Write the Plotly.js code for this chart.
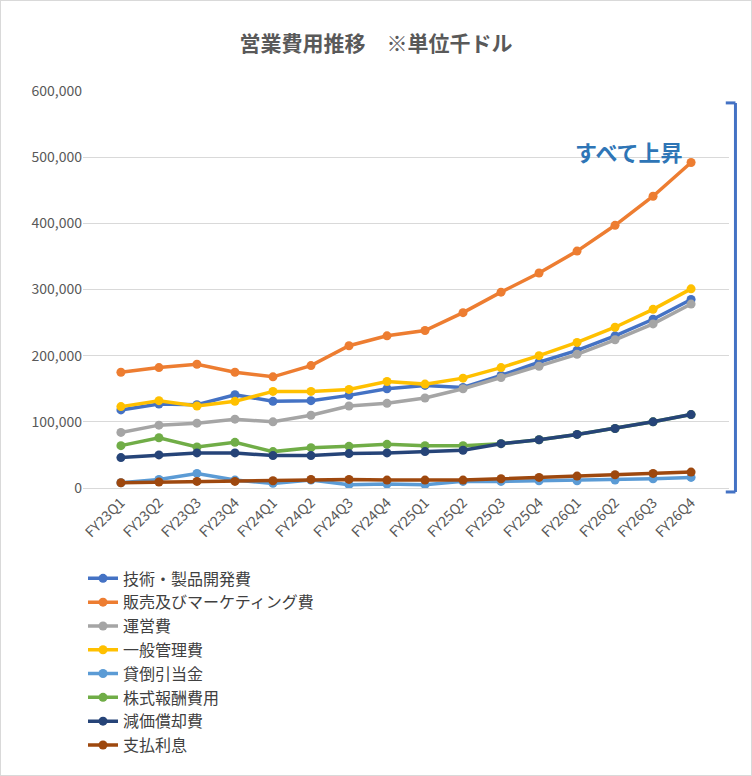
<!DOCTYPE html>
<html>
<head>
<meta charset="utf-8">
<script src="https://cdn.plot.ly/plotly-3.0.1.min.js"></script>
<style>
  body { margin: 0; }
  #chart { width: 752px; height: 776px; box-sizing: border-box; border: 1px solid #d9d9d9; }
</style>
</head>
<body>
<div id="chart"></div>
<script>
const quarters = ["FY23Q1","FY23Q2","FY23Q3","FY23Q4","FY24Q1","FY24Q2","FY24Q3","FY24Q4",
                  "FY25Q1","FY25Q2","FY25Q3","FY25Q4","FY26Q1","FY26Q2","FY26Q3","FY26Q4"];

const rnd      = [118000,127000,126000,141000,131000,132000,140000,150000,155000,152000,170000,190000,208000,230000,255000,285000];
const sales    = [175000,182000,187000,175000,168000,185000,215000,230000,238000,265000,296000,325000,358000,397000,441000,492000];
const ops      = [84000,95000,98000,104000,100000,110000,124000,128000,136000,150000,167000,184000,202000,224000,248000,278000];
const admin    = [123000,132000,124000,131000,146000,146000,149000,161000,157000,166000,182000,200000,220000,243000,270000,301000];
const baddebt  = [8000,13000,22000,12000,7000,12000,5000,6000,5000,10000,10000,11000,11000,12000,14000,16000];
const stock    = [64000,76000,62000,69000,55000,61000,63000,66000,64000,64000,67000,73000,81000,90000,100000,111000];
const deprec   = [46000,50000,53000,53000,49000,49000,52000,53000,55000,57000,67000,73000,81000,90000,100000,111000];
const interest = [8000,9000,10000,10000,11000,13000,13000,12000,12000,12000,14000,16000,18000,20000,22000,24000];

function series(name, y, color) {
    return {
        x: quarters, y: y, name: name,
        type: 'scatter', mode: 'lines+markers',
        line: { color: color, width: 3.5 },
        marker: { color: color, size: 9 }
    };
}

const data = [
    series('技術・製品開発費', rnd, '#4472C4'),
    series('販売及びマーケティング費', sales, '#ED7D31'),
    series('運営費', ops, '#A5A5A5'),
    series('一般管理費', admin, '#FFC000'),
    series('貸倒引当金', baddebt, '#5B9BD5'),
    series('株式報酬費用', stock, '#70AD47'),
    series('減価償却費', deprec, '#264478'),
    series('支払利息', interest, '#9E480E')
];

Plotly.newPlot('chart', data, {
    width: 750, height: 774,
    paper_bgcolor: '#ffffff',
    plot_bgcolor: '#ffffff',
    font: { family: '"Noto Sans CJK JP", sans-serif', color: '#595959' },
    margin: { l: 82, r: 22, t: 90, b: 233 },
    title: {
        text: '<b>営業費用推移　※単位千ドル</b>',
        font: { size: 21, color: '#595959' },
        x: 0.5, y: 0.955
    },
    xaxis: {
        tickangle: -45,
        tickfont: { size: 14, color: '#595959' },
        showgrid: false,
        linecolor: '#d9d9d9', showline: true
    },
    yaxis: {
        range: [0, 600000], dtick: 100000,
        tickformat: ',d',
        tickfont: { size: 14, color: '#595959' },
        gridcolor: '#d9d9d9',
        zeroline: false
    },
    showlegend: true,
    legend: {
        orientation: 'h',
        x: 0.0, y: -0.185, yanchor: 'top',
        entrywidth: 300, entrywidthmode: 'pixels',
        font: { size: 16, color: '#404040' },
        tracegroupgap: 8
    },
    shapes: [
        { type: 'line', xref: 'paper', yref: 'paper', x0: 1.01, x1: 1.01, y0: -0.01, y1: 0.97,
          line: { color: '#4472C4', width: 3 } },
        { type: 'line', xref: 'paper', yref: 'paper', x0: 0.995, x1: 1.01, y0: 0.97, y1: 0.97,
          line: { color: '#4472C4', width: 3 } },
        { type: 'line', xref: 'paper', yref: 'paper', x0: 0.995, x1: 1.01, y0: -0.01, y1: -0.01,
          line: { color: '#4472C4', width: 3 } }
    ],
    annotations: [
        { xref: 'paper', yref: 'paper', x: 0.845, y: 0.895, showarrow: false,
          text: '<b>すべて上昇</b>', font: { size: 22, color: '#2E75B6' }, xanchor: 'center' }
    ]
}, { displayModeBar: false });
</script>
</body>
</html>
